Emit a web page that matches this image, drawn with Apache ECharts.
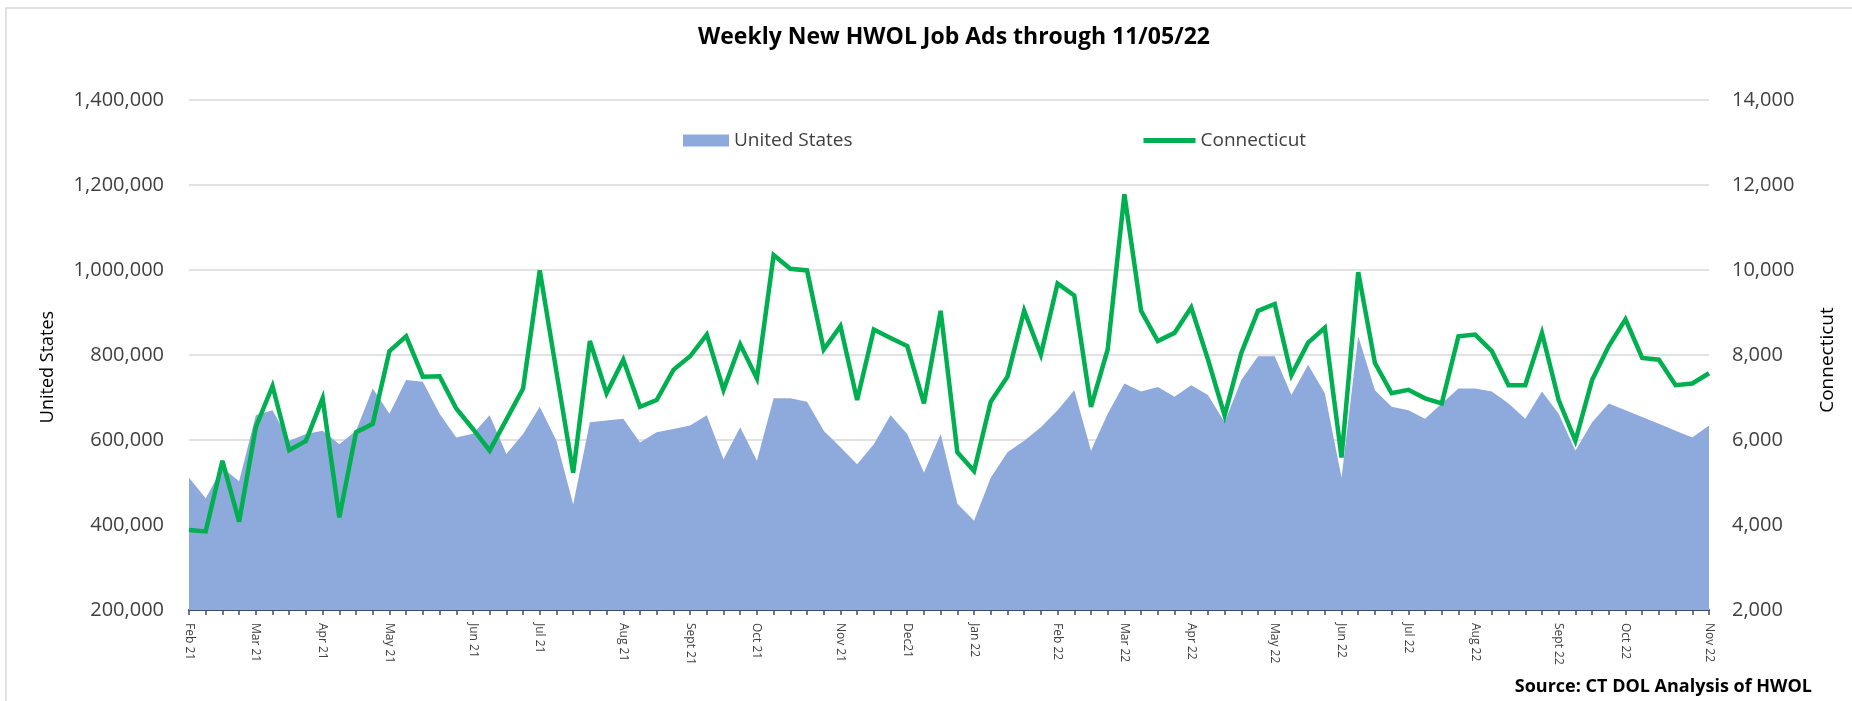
<!DOCTYPE html>
<html>
<head>
<meta charset="utf-8">
<script src="https://cdn.jsdelivr.net/npm/echarts@6/dist/echarts.min.js"></script>
<style>
html,body{margin:0;padding:0;background:#ffffff;}
#chart{width:1852px;height:701px;}
</style>
</head>
<body>
<div id="chart"></div>
<script>
// Weekly categories (tick labels at first week of each month)
const categories = [
'Feb 21','','','','Mar 21','','','','Apr 21','','','','May 21','','','','','Jun 21','','','',
'Jul 21','','','','','Aug 21','','','','Sept 21','','','','Oct 21','','','','','Nov 21','','','',
'Dec21','','','','Jan 22','','','','','Feb 22','','','','Mar 22','','','','Apr 22','','','','',
'May 22','','','','Jun 22','','','','Jul 22','','','','Aug 22','','','','','Sept 22','','','',
'Oct 22','','','','','Nov 22'
];

// United States weekly new job ads (left axis)
const usValues = [
511000,463000,535000,503000,658000,670000,598000,614000,622000,590000,
622000,721000,662000,741000,737000,662000,606000,615000,658000,567000,
614000,678000,598000,448000,642000,646000,650000,594000,618000,626000,
634000,658000,555000,630000,551000,698000,698000,690000,622000,583000,
543000,590000,658000,614000,523000,614000,450000,410000,511000,571000,
598000,630000,670000,717000,575000,662000,733000,714000,725000,702000,
729000,706000,642000,741000,797000,797000,706000,777000,710000,511000,
844000,717000,678000,670000,650000,686000,721000,721000,714000,686000,
650000,714000,662000,575000,642000,686000,670000,654000,638000,622000,
606000,634000
];

// Connecticut weekly new job ads (right axis)
const ctValues = [
3880,3850,5510,4080,6300,7270,5760,5980,6980,4180,
6180,6380,8090,8440,7490,7500,6740,6260,5750,6480,
7210,9990,7600,5230,8330,7100,7890,6780,6940,7650,
7970,8480,7180,8250,7450,10350,10030,9990,8130,8680,
6940,8600,8400,8210,6860,9040,5710,5270,6900,7490,
9040,8010,9680,9400,6780,8130,11780,9040,8330,8520,
9120,7900,6580,8050,9040,9200,7530,8290,8640,5590,
9950,7810,7100,7180,6980,6860,8440,8480,8090,7290,
7290,8520,6940,5980,7410,8210,8840,7930,7890,7290,
7330,7570
];

const FONT = '"Open Sans", "Liberation Sans", sans-serif';
const fmt = v => v.toLocaleString('en-US');

const chart = echarts.init(document.getElementById('chart'), null, {renderer: 'canvas'});

chart.setOption({
  backgroundColor: '#ffffff',
  animation: false,
  textStyle: {fontFamily: FONT},
  grid: {left: 189, right: 143, top: 100, bottom: 91, containLabel: false},
  legend: [
    {
      data: [{name: 'United States', icon: 'rect'}],
      left: 678, top: 126,
      itemWidth: 46, itemHeight: 12,
      textStyle: {fontSize: 19, color: '#404040', fontFamily: FONT},
      selectedMode: false
    },
    {
      data: [{name: 'Connecticut', itemStyle: {opacity: 0}, lineStyle: {width: 5, color: '#00B050'}}],
      left: 1136, top: 126,
      itemWidth: 52, itemHeight: 12,
      lineStyle: {width: 5},
      textStyle: {fontSize: 19, color: '#404040', fontFamily: FONT},
      selectedMode: false
    }
  ],
  xAxis: {
    type: 'category',
    data: categories,
    boundaryGap: false,
    axisLine: {lineStyle: {color: '#3E4B6B', width: 2}},
    axisTick: {show: true, interval: 0, length: 5, lineStyle: {color: '#3E4B6B', width: 1.5}},
    axisLabel: {interval: 0, rotate: -90, fontSize: 12, color: '#404040', margin: 13, fontFamily: FONT},
    splitLine: {show: false}
  },
  yAxis: [
    {
      type: 'value', position: 'left',
      min: 200000, max: 1400000, interval: 200000,
      name: 'United States', nameLocation: 'middle', nameGap: 132, nameRotate: 90,
      nameTextStyle: {fontSize: 18, color: '#000000', fontFamily: FONT, padding: [0, 24, 0, 0]},
      axisLabel: {formatter: fmt, fontSize: 20, color: '#404040', margin: 25, fontFamily: FONT},
      axisLine: {show: false}, axisTick: {show: false},
      splitLine: {show: true, lineStyle: {color: '#D9D9D9', width: 1.5}}
    },
    {
      type: 'value', position: 'right',
      min: 2000, max: 14000, interval: 2000,
      name: 'Connecticut', nameLocation: 'middle', nameGap: 109, nameRotate: 90,
      nameTextStyle: {fontSize: 19, color: '#000000', fontFamily: FONT, padding: [0, 10, 0, 0]},
      axisLabel: {formatter: fmt, fontSize: 20, color: '#404040', margin: 23, fontFamily: FONT},
      axisLine: {show: false}, axisTick: {show: false},
      splitLine: {show: false}
    }
  ],
  series: [
    {
      name: 'United States', type: 'line', yAxisIndex: 0,
      data: usValues, symbol: 'none', showSymbol: false,
      lineStyle: {width: 0, color: '#8EA9DB'},
      itemStyle: {color: '#8EA9DB'},
      areaStyle: {color: '#8EA9DB', opacity: 1, origin: 'start'},
      z: 1
    },
    {
      name: 'Connecticut', type: 'line', yAxisIndex: 1,
      data: ctValues, symbol: 'none', showSymbol: false,
      lineStyle: {width: 4.5, color: '#00B050', join: 'miter', miterLimit: 4},
      itemStyle: {color: '#00B050'},
      z: 3
    }
  ],
  graphic: [
    {
      type: 'rect', silent: true, z: -10,
      shape: {x: 6, y: 8, width: 1900, height: 800},
      style: {fill: 'none', stroke: '#D9D9D9', lineWidth: 1.5}
    },
    {
      type: 'text', x: 954, y: 26, silent: true,
      style: {text: 'Weekly New HWOL Job Ads through 11/05/22', font: 'bold 23px ' + FONT,
              fill: '#000000', align: 'center', verticalAlign: 'top'}
    },
    {
      type: 'text', x: 1812, y: 678, silent: true,
      style: {text: 'Source: CT DOL Analysis of HWOL', font: 'bold 18px ' + FONT,
              fill: '#000000', align: 'right', verticalAlign: 'top'}
    }
  ]
});
</script>
</body>
</html>
